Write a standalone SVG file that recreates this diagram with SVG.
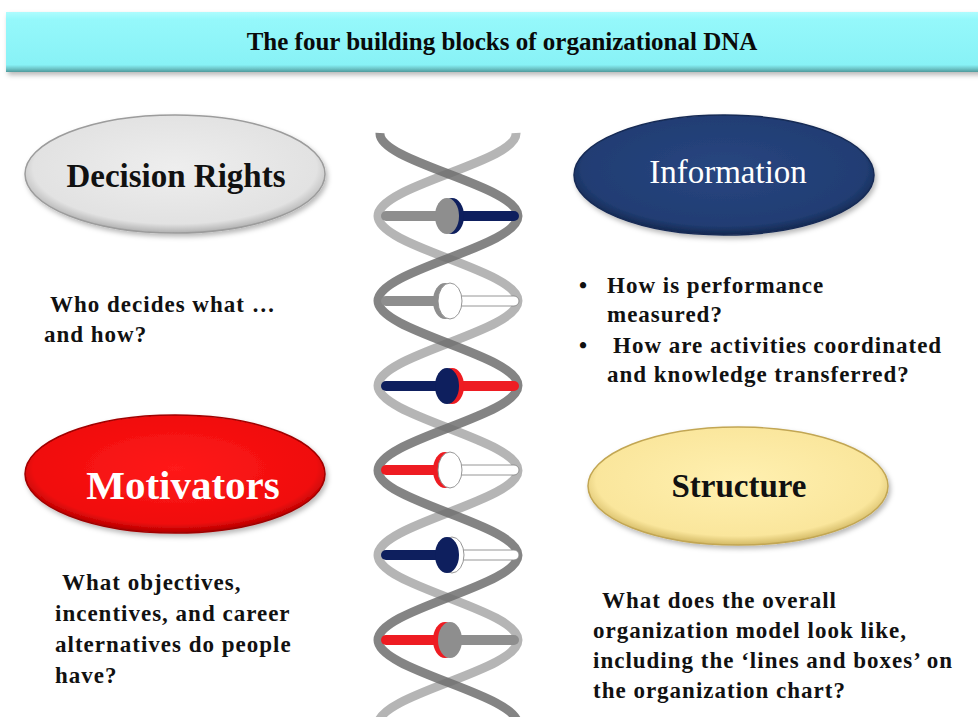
<svg xmlns="http://www.w3.org/2000/svg" width="978" height="717" viewBox="0 0 978 717">
  <defs>
    <style>
      .body { font-family: "Liberation Serif", "Times New Roman", serif; font-weight: bold; font-size: 23px; letter-spacing: 1px; fill: #111; }
      .ttl { font-family: "Liberation Serif", "Times New Roman", serif; font-weight: bold; }
      .strandA { fill: none; stroke: #6e6e6e; stroke-width: 9; stroke-opacity: 0.85; }
      .strandB { fill: none; stroke: #a8a8a8; stroke-width: 9; stroke-opacity: 0.85; }
      .wht { stroke: #8a8a8a; stroke-width: 0.9; }
    </style>
    <linearGradient id="barGrad" x1="0" y1="0" x2="0" y2="1">
      <stop offset="0" stop-color="#aefcfe"/>
      <stop offset="0.12" stop-color="#95f8fb"/>
      <stop offset="0.88" stop-color="#88f2f6"/>
      <stop offset="0.94" stop-color="#6fc9cc"/>
      <stop offset="1" stop-color="#4f9a9c"/>
    </linearGradient>
    <radialGradient id="grayGrad" cx="50%" cy="45%" r="55%">
      <stop offset="0" stop-color="#eeeeee"/>
      <stop offset="0.86" stop-color="#e2e2e2"/>
      <stop offset="1" stop-color="#b0b0b0"/>
    </radialGradient>
    <radialGradient id="navyGrad" cx="50%" cy="45%" r="55%">
      <stop offset="0" stop-color="#284680"/>
      <stop offset="0.86" stop-color="#213d73"/>
      <stop offset="1" stop-color="#142850"/>
    </radialGradient>
    <radialGradient id="redGrad" cx="50%" cy="45%" r="55%">
      <stop offset="0" stop-color="#ff1a1a"/>
      <stop offset="0.86" stop-color="#f00c0c"/>
      <stop offset="1" stop-color="#b00000"/>
    </radialGradient>
    <radialGradient id="yelGrad" cx="50%" cy="45%" r="55%">
      <stop offset="0" stop-color="#fff0b0"/>
      <stop offset="0.86" stop-color="#fae69c"/>
      <stop offset="1" stop-color="#d3b964"/>
    </radialGradient>
    <filter id="shadow" x="-10%" y="-20%" width="125%" height="150%">
      <feDropShadow dx="2" dy="3" stdDeviation="2.5" flood-color="#000" flood-opacity="0.28"/>
    </filter>
  </defs>

  <rect width="978" height="717" fill="#ffffff"/>

  <g id="title">
    <rect x="6" y="12" width="990" height="60" fill="url(#barGrad)" filter="url(#shadow)"/>
    <text class="ttl" x="502" y="50" font-size="25" text-anchor="middle" fill="#0a0a0a">The four building blocks of organizational DNA</text>
  </g>

  <g id="helix">
    <path class="strandB" d="M516,133 C518,162.1 378,185.1 378,216 C378,246.9 518,269.9 518,300.8 C518,331.7 378,354.7 378,385.6 C378,416.5 518,439.5 518,470.4 C518,501.3 378,524.3 378,555.2 C378,586.1 518,609.1 518,640 C518,670.9 378,693.9 378,724.8"/>
    <path class="strandA" d="M380,133 C378,162.1 518,185.1 518,216 C518,246.9 378,269.9 378,300.8 C378,331.7 518,354.7 518,385.6 C518,416.5 378,439.5 378,470.4 C378,501.3 518,524.3 518,555.2 C518,586.1 378,609.1 378,640 C378,670.9 518,693.9 518,724.8"/>

    <g id="rung1">
      <rect x="381" y="211" width="68" height="10" rx="5" fill="#8e8e8e"/>
      <rect x="448" y="211" width="71" height="10" rx="5" fill="#0e1f5e"/>
      <ellipse cx="452" cy="216" rx="12" ry="18" fill="#0e1f5e"/>
      <ellipse cx="447" cy="216" rx="12" ry="18" fill="#8e8e8e"/>
    </g>
    <g id="rung2">
      <rect x="381" y="296" width="68" height="10" rx="5" fill="#8e8e8e"/>
      <rect class="wht" x="448" y="296" width="71" height="10" rx="5" fill="#ffffff"/>
      <ellipse cx="445" cy="301" rx="12" ry="18" fill="#8e8e8e"/>
      <ellipse class="wht" cx="450" cy="301" rx="12" ry="18" fill="#ffffff"/>
    </g>
    <g id="rung3">
      <rect x="381" y="381" width="68" height="10" rx="5" fill="#0e1f5e"/>
      <rect x="448" y="381" width="71" height="10" rx="5" fill="#ee1c22"/>
      <ellipse cx="452" cy="386" rx="12" ry="18" fill="#ee1c22"/>
      <ellipse cx="447" cy="386" rx="12" ry="18" fill="#0e1f5e"/>
    </g>
    <g id="rung4">
      <rect x="381" y="465" width="68" height="10" rx="5" fill="#ee1c22"/>
      <rect class="wht" x="448" y="465" width="71" height="10" rx="5" fill="#ffffff"/>
      <ellipse cx="445" cy="470" rx="12" ry="18" fill="#ee1c22"/>
      <ellipse class="wht" cx="450" cy="470" rx="12" ry="18" fill="#ffffff"/>
    </g>
    <g id="rung5">
      <rect x="381" y="550" width="68" height="10" rx="5" fill="#0e1f5e"/>
      <rect class="wht" x="448" y="550" width="71" height="10" rx="5" fill="#ffffff"/>
      <ellipse class="wht" cx="452" cy="555" rx="12" ry="18" fill="#ffffff"/>
      <ellipse cx="447" cy="555" rx="12" ry="18" fill="#0e1f5e"/>
    </g>
    <g id="rung6">
      <rect x="381" y="635" width="68" height="10" rx="5" fill="#ee1c22"/>
      <rect x="448" y="635" width="71" height="10" rx="5" fill="#8e8e8e"/>
      <ellipse cx="445" cy="640" rx="12" ry="18" fill="#ee1c22"/>
      <ellipse cx="450" cy="640" rx="12" ry="18" fill="#8e8e8e"/>
    </g>
  </g>

  <g id="node-decision-rights">
    <ellipse cx="175" cy="174" rx="150" ry="59" fill="url(#grayGrad)" stroke="#9c9c9c" stroke-width="1.5" filter="url(#shadow)"/>
    <text class="ttl" x="176" y="187" font-size="33" text-anchor="middle" fill="#111">Decision Rights</text>
    <text class="body" x="50" y="312">Who decides what …</text>
    <text class="body" x="44" y="342">and how?</text>
  </g>

  <g id="node-information">
    <ellipse cx="724" cy="175" rx="150" ry="60" fill="url(#navyGrad)" stroke="#172b55" stroke-width="1.5" filter="url(#shadow)"/>
    <text x="728" y="183" font-family="Liberation Serif, Times New Roman, serif" font-size="33" text-anchor="middle" fill="#ffffff">Information</text>
    <text class="body" x="579" y="293" font-size="18">•</text>
    <text class="body" x="607" y="293">How is performance</text>
    <text class="body" x="607" y="322">measured?</text>
    <text class="body" x="579" y="353" font-size="18">•</text>
    <text class="body" x="613" y="353">How are activities coordinated</text>
    <text class="body" x="607" y="382">and knowledge transferred?</text>
  </g>

  <g id="node-motivators">
    <ellipse cx="175" cy="474" rx="150" ry="59" fill="url(#redGrad)" stroke="#a00000" stroke-width="1.5" filter="url(#shadow)"/>
    <text class="ttl" x="183" y="499" font-size="41" text-anchor="middle" fill="#ffffff">Motivators</text>
    <text class="body" x="62" y="590">What objectives,</text>
    <text class="body" x="55" y="621">incentives, and career</text>
    <text class="body" x="55" y="652">alternatives do people</text>
    <text class="body" x="55" y="683">have?</text>
  </g>

  <g id="node-structure">
    <ellipse cx="738" cy="486" rx="150" ry="59" fill="url(#yelGrad)" stroke="#c2a653" stroke-width="1.5" filter="url(#shadow)"/>
    <text class="ttl" x="739" y="497" font-size="33" text-anchor="middle" fill="#111">Structure</text>
    <text class="body" x="602" y="608">What does the overall</text>
    <text class="body" x="593" y="638">organization model look like,</text>
    <text class="body" x="593" y="668">including the ‘lines and boxes’ on</text>
    <text class="body" x="593" y="698">the organization chart?</text>
  </g>

  <g id="connectors"/>
</svg>
